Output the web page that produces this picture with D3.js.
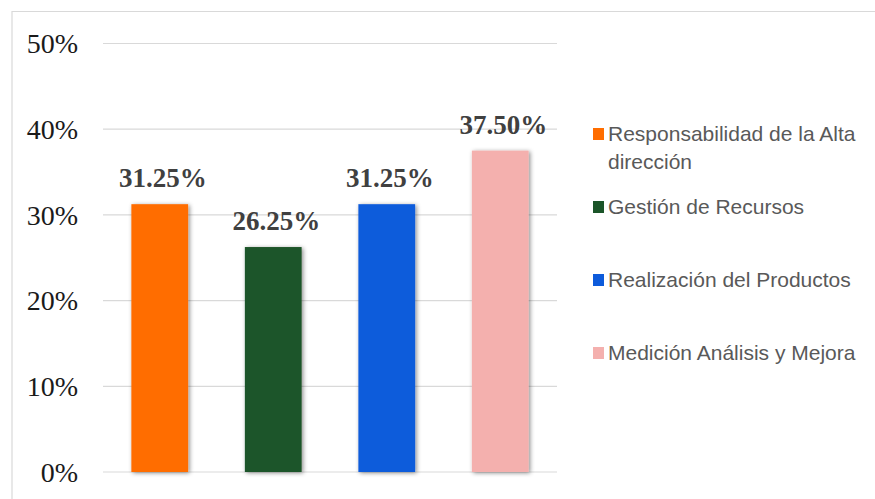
<!DOCTYPE html>
<html>
<head>
<meta charset="utf-8">
<script src="https://cdn.jsdelivr.net/npm/d3@7"></script>
<style>
  html, body { margin: 0; padding: 0; background: #fff; }
  svg { display: block; }
</style>
</head>
<body>
<svg id="chart" width="875" height="499"></svg>
<script>
// Categories, values (percent) and colours
const categories = [
  "Responsabilidad de la Alta dirección",
  "Gestión de Recursos",
  "Realización del Productos",
  "Medición Análisis y Mejora"
];
const values = [31.25, 26.25, 31.25, 37.5];
const colors = ["#ff6d00", "#1b5529", "#0d5bdb", "#f4b0ae"];
const yTicks = [0, 10, 20, 30, 40, 50];
// Legend text split into drawn lines
const legendLines = [
  ["Responsabilidad de la Alta", "dirección"],
  ["Gestión de Recursos"],
  ["Realización del Productos"],
  ["Medición Análisis y Mejora"]
];

const svg = d3.select("#chart");

// drop shadow for bars
const defs = svg.append("defs");
const f = defs.append("filter").attr("id", "shadow")
  .attr("x", "-30%").attr("y", "-10%").attr("width", "160%").attr("height", "120%");
f.append("feDropShadow").attr("dx", 1.5).attr("dy", 1).attr("stdDeviation", 2)
  .attr("flood-color", "#000").attr("flood-opacity", 0.45);

// frame
svg.append("path").attr("d", "M12,499V11.5H875")
  .attr("fill", "none").attr("stroke", "#d9d9d9").attr("stroke-width", 1.2);

const x = d3.scaleBand().domain(categories).range([103, 557])
  .paddingInner(0.5).paddingOuter(0.25);
const y = d3.scaleLinear().domain([0, 50]).range([472, 43.5]);

// gridlines
svg.append("g").selectAll("line").data(yTicks).join("line")
  .attr("x1", 103).attr("x2", 557)
  .attr("y1", d => y(d)).attr("y2", d => y(d))
  .attr("stroke", "#d9d9d9").attr("stroke-width", 1.2);

// y axis labels
const yAxis = d3.axisLeft(y).tickValues(yTicks).tickSize(0).tickPadding(0)
  .tickFormat(d => d + "%");
const gy = svg.append("g").attr("transform", "translate(78,0)").call(yAxis);
gy.select(".domain").remove();
gy.selectAll(".tick text")
  .attr("font-family", "'Liberation Serif', 'Times New Roman', serif")
  .attr("font-size", 28).attr("fill", "#1a1a1a")
  .attr("x", 0).attr("dy", "0.33em")
  .attr("text-anchor", "end");

// bars
svg.append("g").selectAll("rect").data(values).join("rect")
  .attr("x", (d, i) => x(categories[i]))
  .attr("width", x.bandwidth())
  .attr("y", d => y(d))
  .attr("height", d => y(0) - y(d))
  .attr("fill", (d, i) => colors[i])
  .attr("filter", "url(#shadow)");

// value labels
svg.append("g").selectAll("text").data(values).join("text")
  .attr("x", (d, i) => x(categories[i]) + x.bandwidth() / 2 + 3)
  .attr("y", d => y(d) - 17)
  .attr("text-anchor", "middle")
  .attr("font-family", "'Liberation Serif', 'Times New Roman', serif")
  .attr("font-weight", "bold")
  .attr("font-size", 27)
  .attr("fill", "#404040")
  .text(d => d.toFixed(2) + "%");

// legend
const legendY = [134, 207, 280, 353];
const lg = svg.append("g");
legendLines.forEach((lines, i) => {
  lg.append("rect").attr("x", 593).attr("y", legendY[i] - 6)
    .attr("width", 11).attr("height", 12).attr("fill", colors[i]);
  lines.forEach((t, j) => {
    lg.append("text")
      .attr("x", 608).attr("y", legendY[i] + j * 28)
      .attr("dy", "0.35em")
      .attr("font-family", "'Liberation Sans', Arial, sans-serif")
      .attr("font-size", 21)
      .attr("fill", "#595959")
      .text(t);
  });
});
</script>
</body>
</html>
